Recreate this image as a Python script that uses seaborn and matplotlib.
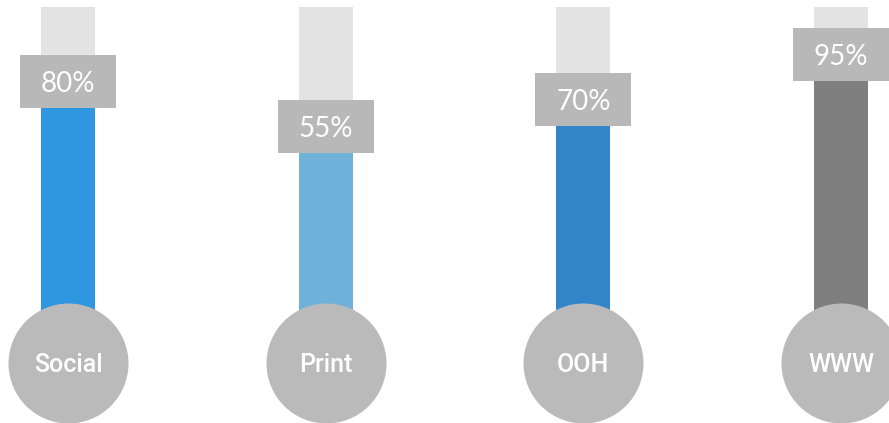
import matplotlib

matplotlib.use("Agg")

import matplotlib.pyplot as plt
import pandas as pd
import seaborn as sns


CHANNELS = ["Social", "Print", "OOH", "WWW"]
SHARES = [80, 55, 70, 95]
PCT_LABELS = ["80%", "55%", "70%", "95%"]
FILL_COLORS = ["#2f96e0", "#6fb1d9", "#3385c9", "#7f7f7f"]

TUBE_TOP = 106.5
STEM_BASE = -75
BULB_LEVEL = -91
BOX_HEIGHT = 29.4
BAR_WIDTH = 0.21
BOX_WIDTH = 0.3725

TUBE_COLOR = "#e3e3e3"
BOX_COLOR = "#b8b8b8"
BULB_COLOR = "#bababa"


def main() -> None:
	sns.set_theme(style="white")
	df = pd.DataFrame({"channel": CHANNELS, "share": SHARES})

	fig = plt.figure(figsize=(8.89, 4.23), dpi=100)
	ax = fig.add_axes([0, 0, 1, 1])

	# empty tube behind the fill
	sns.barplot(
		data=df.assign(tube=TUBE_TOP),
		x="channel",
		y="tube",
		color=TUBE_COLOR,
		width=BAR_WIDTH,
		saturation=1,
		linewidth=0,
		ax=ax,
	)
	n_tube = len(ax.patches)

	sns.barplot(
		data=df,
		x="channel",
		y="share",
		hue="channel",
		palette=FILL_COLORS,
		width=BAR_WIDTH,
		saturation=1,
		linewidth=0,
		legend=False,
		ax=ax,
	)
	# let the coloured column run down into the bulb
	for patch in ax.patches[n_tube:]:
		top = patch.get_y() + patch.get_height()
		patch.set_y(STEM_BASE)
		patch.set_height(top - STEM_BASE)

	xs = list(range(len(CHANNELS)))

	# value boxes sitting on the fill level
	ax.bar(
		xs,
		BOX_HEIGHT,
		bottom=[v - BOX_HEIGHT for v in SHARES],
		width=BOX_WIDTH,
		color=BOX_COLOR,
		linewidth=0,
		zorder=3,
	)
	for x, v, label in zip(xs, SHARES, PCT_LABELS):
		ax.text(
			x,
			v - BOX_HEIGHT / 2,
			label,
			ha="center",
			va="center_baseline",
			color="white",
			fontsize=20,
			family=["Lato", "DejaVu Sans"],
			fontweight="normal",
			zorder=4,
		)

	# bulbs
	ax.scatter(
		xs,
		[BULB_LEVEL] * len(xs),
		s=7465,
		color=BULB_COLOR,
		linewidths=0,
		zorder=5,
	)
	for x, name in zip(xs, CHANNELS):
		ax.text(
			x,
			BULB_LEVEL,
			name,
			ha="center",
			va="center_baseline",
			color="white",
			fontsize=18,
			family=["Roboto", "DejaVu Sans"],
			fontweight="medium",
			zorder=6,
		)

	ax.set_xlim(-0.264, 3.186)
	ax.set_ylim(-124.4, 110.6)
	ax.axis("off")

	fig.savefig("out.png", dpi=100)
	plt.close(fig)


if __name__ == "__main__":
	main()
